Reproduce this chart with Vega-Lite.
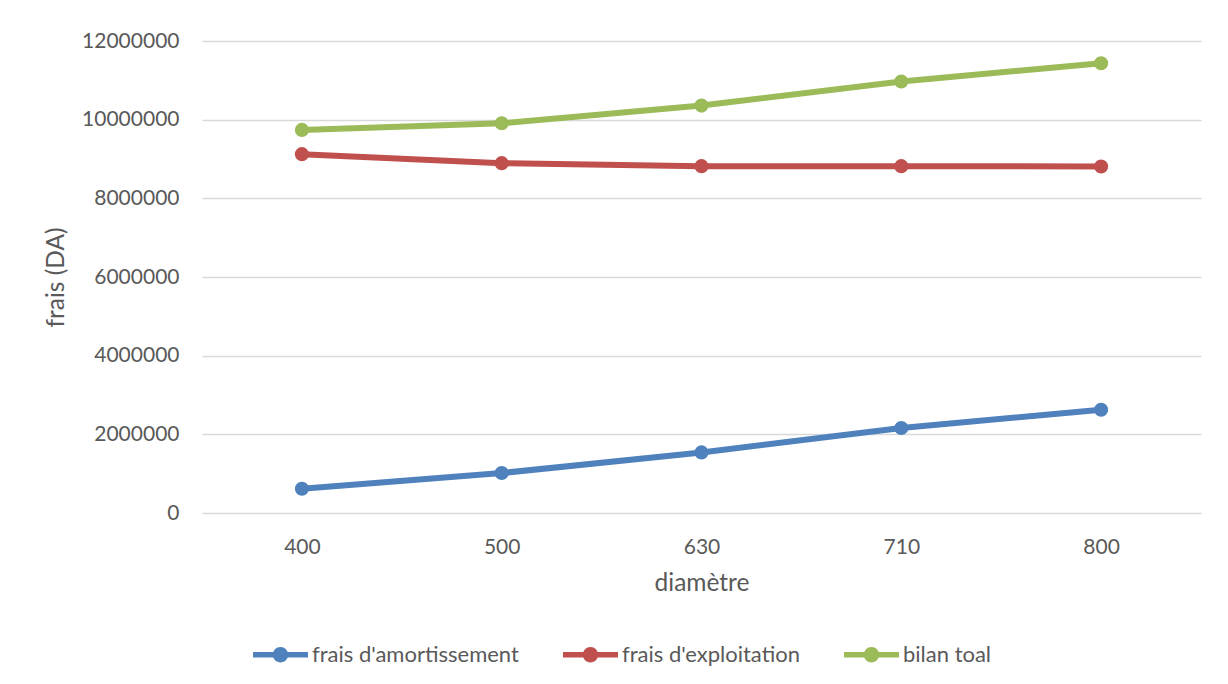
{
  "$schema": "https://vega.github.io/schema/vega-lite/v6.json",
  "width": 999,
  "height": 472,
  "autosize": {"type": "none"},
  "padding": {"left": 202, "top": 41, "right": 27, "bottom": 171},
  "background": "white",
  "config": {
    "font": "Lato",
    "view": {"stroke": null},
    "axis": {
      "labelFont": "Lato",
      "titleFont": "Lato",
      "labelColor": "#595959",
      "titleColor": "#595959",
      "labelFontSize": 21,
      "titleFontSize": 24.5,
      "titleFontWeight": "normal",
      "domain": false,
      "ticks": false,
      "gridColor": "#d9d9d9",
      "gridWidth": 1.3
    },
    "legend": {
      "labelFont": "Lato",
      "labelFontSize": 22,
      "labelColor": "#595959",
      "labelLimit": 400
    }
  },
  "data": {
    "values": [
      {"diametre": 400, "serie": "frais d'amortissement", "frais": 617000},
      {"diametre": 500, "serie": "frais d'amortissement", "frais": 1016000},
      {"diametre": 630, "serie": "frais d'amortissement", "frais": 1540000},
      {"diametre": 710, "serie": "frais d'amortissement", "frais": 2160000},
      {"diametre": 800, "serie": "frais d'amortissement", "frais": 2625000},
      {"diametre": 400, "serie": "frais d'exploitation", "frais": 9123000},
      {"diametre": 500, "serie": "frais d'exploitation", "frais": 8894000},
      {"diametre": 630, "serie": "frais d'exploitation", "frais": 8818000},
      {"diametre": 710, "serie": "frais d'exploitation", "frais": 8818000},
      {"diametre": 800, "serie": "frais d'exploitation", "frais": 8810000},
      {"diametre": 400, "serie": "bilan toal", "frais": 9740000},
      {"diametre": 500, "serie": "bilan toal", "frais": 9910000},
      {"diametre": 630, "serie": "bilan toal", "frais": 10358000},
      {"diametre": 710, "serie": "bilan toal", "frais": 10970000},
      {"diametre": 800, "serie": "bilan toal", "frais": 11435000}
    ]
  },
  "encoding": {
    "x": {
      "field": "diametre",
      "type": "ordinal",
      "scale": {"type": "point", "padding": 0.5},
      "axis": {
        "title": "diamètre",
        "labelAngle": 0,
        "labelPadding": 23.5,
        "titlePadding": 14,
        "grid": false
      }
    },
    "y": {
      "field": "frais",
      "type": "quantitative",
      "scale": {"domain": [0, 12000000], "nice": false},
      "axis": {
        "title": "frais (DA)",
        "values": [0, 2000000, 4000000, 6000000, 8000000, 10000000, 12000000],
        "format": "d",
        "labelPadding": 23,
        "titlePadding": 13
      }
    },
    "color": {
      "field": "serie",
      "type": "nominal",
      "scale": {
        "domain": ["frais d'amortissement", "frais d'exploitation", "bilan toal"],
        "range": ["#4F81BD", "#C0504D", "#9BBB59"]
      },
      "legend": {
        "title": null,
        "orient": "none",
        "direction": "horizontal",
        "legendX": 51,
        "legendY": 586,
        "padding": 0,
        "symbolType": "M-1,-0.1L1,-0.1L1,0.1L-1,0.1Z M-0.28,0A0.28,0.28 0 1,1 0.28,0A0.28,0.28 0 1,1 -0.28,0Z",
        "symbolSize": 3025,
        "symbolStrokeWidth": 0,
        "symbolOpacity": 1,
        "labelOffset": 4,
        "columnPadding": 44,
        "encode": {
          "symbols": {
            "update": {
              "fill": {"scale": "color", "field": "value"},
              "stroke": {"value": "transparent"},
              "strokeWidth": {"value": 0}
            }
          }
        }
      }
    }
  },
  "layer": [
    {
      "mark": {"type": "line", "strokeWidth": 6, "strokeCap": "round", "strokeJoin": "round"}
    },
    {
      "mark": {"type": "point", "filled": true, "opacity": 1, "size": 200}
    }
  ]
}
